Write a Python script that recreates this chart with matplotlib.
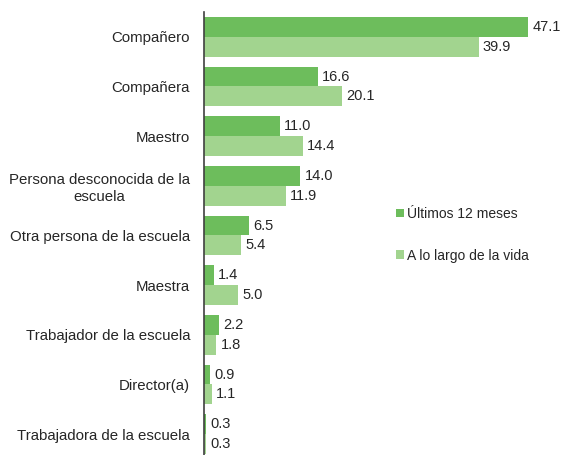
import numpy as np
import matplotlib.pyplot as plt

plt.rcParams['font.family'] = ['Liberation Sans', 'DejaVu Sans']

categories = ["Compañero", "Compañera", "Maestro", "Persona desconocida de la\nescuela",
              "Otra persona de la escuela", "Maestra", "Trabajador de la escuela",
              "Director(a)", "Trabajadora de la escuela"]
ultimos_12 = [47.1, 16.6, 11.0, 14.0, 6.5, 1.4, 2.2, 0.9, 0.3]
toda_vida = [39.9, 20.1, 14.4, 11.9, 5.4, 5.0, 1.8, 1.1, 0.3]
series_names = ["Últimos 12 meses", "A lo largo de la vida"]

dark = "#6dbd5c"
light = "#a2d48f"
txt = "#262626"

fig = plt.figure(figsize=(5.62, 4.55), dpi=100)
ax = fig.add_axes([204 / 562, 0, 1 - 204 / 562, 1 - 12 / 455])

y = np.arange(len(categories))
h = 0.4
b1 = ax.barh(y - h / 2, ultimos_12, height=h, color=dark, label=series_names[0])
b2 = ax.barh(y + h / 2, toda_vida, height=h, color=light, label=series_names[1])

for bars, vals in [(b1, ultimos_12), (b2, toda_vida)]:
    for rect, v in zip(bars, vals):
        ax.text(rect.get_width() + 0.6, rect.get_y() + rect.get_height() / 2, f"{v:.1f}",
                va="center", ha="left", fontsize=10.5, color=txt)

ax.set_xlim(0, (562 - 204) / 6.88)
ax.set_ylim(8.42, -0.5)
ax.set_yticks(y)
ax.set_yticklabels(categories, fontsize=10.8, color=txt)
for lab in ax.get_yticklabels():
    lab.set_multialignment("center")
ax.tick_params(axis="y", length=0, pad=10)
ax.set_xticks([])
for s in ["top", "right", "bottom"]:
    ax.spines[s].set_visible(False)
ax.spines["left"].set_color("#404040")
ax.spines["left"].set_linewidth(1.2)

ax.legend(loc="center left", bbox_to_anchor=(0.5, 0.497), frameon=False, fontsize=10,
          handlelength=0.6, handleheight=0.6, handletextpad=0.2, labelspacing=2.0,
          labelcolor=txt)

fig.savefig("out.png", dpi=100)
